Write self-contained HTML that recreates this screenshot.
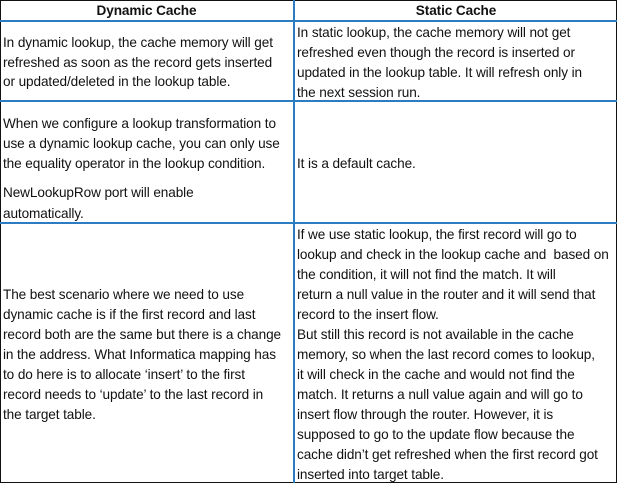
<!DOCTYPE html>
<html><head><meta charset="utf-8"><style>
body{margin:0;width:617px;height:483px;position:relative;background:#fff;overflow:hidden;font-family:"Liberation Sans",sans-serif;font-size:13.6px;color:#111;}
.b{position:absolute;border:1px solid #111;left:0;top:0;width:615px;height:481px;}
.h{position:absolute;background:#2b7cc0;}
.t{position:absolute;white-space:nowrap;line-height:20px;height:20px;letter-spacing:-0.1px;}
.hd{font-weight:bold;text-align:center;}
</style></head><body>
<div class="b"></div>
<div class="h" style="left:293px;top:0;width:2px;height:483px"></div>
<div class="h" style="left:0;top:20px;width:617px;height:2px"></div>
<div class="h" style="left:0;top:100px;width:617px;height:2px"></div>
<div class="h" style="left:0;top:222px;width:617px;height:2px"></div>

<div class="t hd" style="left:0;width:293px;top:1px">Dynamic Cache</div>
<div class="t hd" style="left:295px;width:322px;top:1px">Static Cache</div>

<div class="t" style="left:3px;top:33px">In dynamic lookup, the cache memory will get</div>
<div class="t" style="left:3px;top:53px">refreshed as soon as the record gets inserted</div>
<div class="t" style="left:3px;top:72px">or updated/deleted in the lookup table.</div>

<div class="t" style="left:297px;top:23px">In static lookup, the cache memory will not get</div>
<div class="t" style="left:297px;top:43px">refreshed even though the record is inserted or</div>
<div class="t" style="left:297px;top:63px">updated in the lookup table. It will refresh only in</div>
<div class="t" style="left:297px;top:83px">the next session run.</div>

<div class="t" style="left:3px;top:114px">When we configure a lookup transformation to</div>
<div class="t" style="left:3px;top:134px">use a dynamic lookup cache, you can only use</div>
<div class="t" style="left:3px;top:154px">the equality operator in the lookup condition.</div>
<div class="t" style="left:3px;top:183px">NewLookupRow port will enable</div>
<div class="t" style="left:3px;top:204px">automatically.</div>
<div class="t" style="left:297px;top:154px">It is a default cache.</div>

<div class="t" style="left:3px;top:285px">The best scenario where we need to use</div>
<div class="t" style="left:3px;top:305px">dynamic cache is if the first record and last</div>
<div class="t" style="left:3px;top:325px">record both are the same but there is a change</div>
<div class="t" style="left:3px;top:345px">in the address. What Informatica mapping has</div>
<div class="t" style="left:3px;top:365px">to do here is to allocate ‘insert’ to the first</div>
<div class="t" style="left:3px;top:385px">record needs to ‘update’ to the last record in</div>
<div class="t" style="left:3px;top:405px">the target table.</div>

<div class="t" style="left:297px;top:225px">If we use static lookup, the first record will go to</div>
<div class="t" style="left:297px;top:245px">lookup and check in the lookup cache and&nbsp; based on</div>
<div class="t" style="left:297px;top:265px">the condition, it will not find the match. It will</div>
<div class="t" style="left:297px;top:285px">return a null value in the router and it will send that</div>
<div class="t" style="left:297px;top:305px">record to the insert flow.</div>
<div class="t" style="left:297px;top:325px">But still this record is not available in the cache</div>
<div class="t" style="left:297px;top:345px">memory, so when the last record comes to lookup,</div>
<div class="t" style="left:297px;top:365px">it will check in the cache and would not find the</div>
<div class="t" style="left:297px;top:385px">match. It returns a null value again and will go to</div>
<div class="t" style="left:297px;top:405px">insert flow through the router. However, it is</div>
<div class="t" style="left:297px;top:425px">supposed to go to the update flow because the</div>
<div class="t" style="left:297px;top:445px">cache didn’t get refreshed when the first record got</div>
<div class="t" style="left:297px;top:465px">inserted into target table.</div>
</body></html>
